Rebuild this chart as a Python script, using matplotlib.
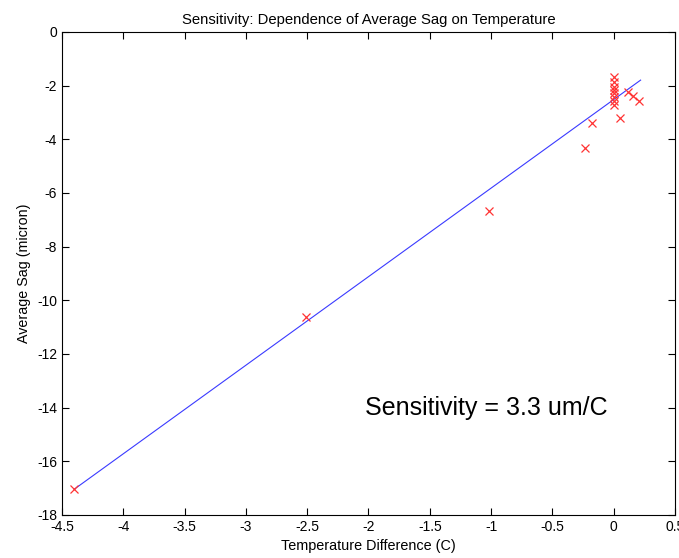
import matplotlib
matplotlib.use("Agg")
import matplotlib.pyplot as plt
import numpy as np

plt.rcParams["font.family"] = ["Liberation Sans", "DejaVu Sans"]
plt.rcParams["axes.unicode_minus"] = False

temp_diff = [-4.40, -2.51, -1.02, -0.23, -0.18,
             0.0, 0.0, 0.0, 0.0, 0.0, 0.0, 0.0, 0.0,
             0.05, 0.12, 0.16, 0.21]
avg_sag = [-17.05, -10.63, -6.68, -4.33, -3.40,
           -1.68, -1.88, -2.04, -2.16, -2.29, -2.41, -2.57, -2.72,
           -3.20, -2.23, -2.38, -2.57]

fit_slope = 3.3
fit_intercept = -2.52
fit_range = [-4.40, 0.22]

xticks = [-4.5, -4, -3.5, -3, -2.5, -2, -1.5, -1, -0.5, 0, 0.5]
xticklabels = ["-4.5", "-4", "-3.5", "-3", "-2.5", "-2", "-1.5", "-1", "-0.5", "0", "0.5"]
yticks = [0, -2, -4, -6, -8, -10, -12, -14, -16, -18]

fig = plt.figure(figsize=(6.79, 5.58), dpi=100)
ax = fig.add_axes([0.0913, 0.0771, 0.9027, 0.8656])

fx = np.array(fit_range)
ax.plot(fx, fit_slope * fx + fit_intercept, color="#3a3aff", linewidth=0.8)
ax.plot(temp_diff, avg_sag, linestyle="none", marker="x", color="#ff3333",
        markersize=6, markeredgewidth=0.9)

ax.set_xlim(-4.5, 0.5)
ax.set_ylim(-18, 0)
ax.set_xticks(xticks)
ax.set_xticklabels(xticklabels)
ax.set_yticks(yticks)
ax.tick_params(direction="in", top=True, right=True, labelsize=10, length=5)
for s in ax.spines.values():
    s.set_linewidth(0.8)

ax.set_title("Sensitivity: Dependence of Average Sag on Temperature", fontsize=10.7, pad=6)
ax.set_xlabel("Temperature Difference (C)", fontsize=10.4)
ax.set_ylabel("Average Sag (micron)", fontsize=10.3)

ax.text(-2.03, -14.0, "Sensitivity = 3.3 um/C", fontsize=18, va="center", ha="left")

fig.savefig("out.png", dpi=100)
